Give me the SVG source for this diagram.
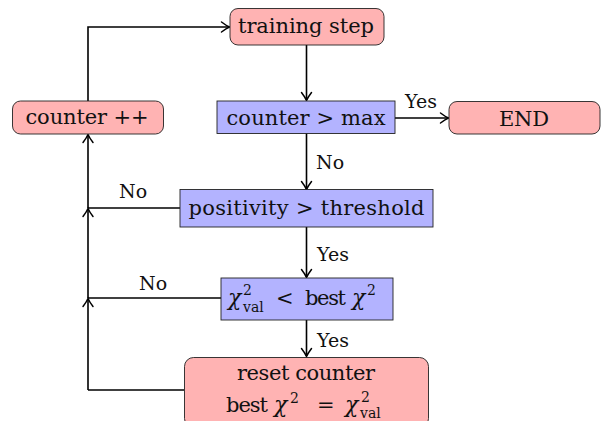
<svg xmlns="http://www.w3.org/2000/svg" width="604" height="421" viewBox="0 0 604 421">
<style>
.pink{fill:#ffb3b3;stroke:#222;stroke-width:0.9}
.blue{fill:#b3b3ff;stroke:#222;stroke-width:0.9}
.t{font-family:"DejaVu Serif","Liberation Serif",serif;font-size:21px;fill:#111;text-anchor:middle}
.s{font-family:"DejaVu Serif","Liberation Serif",serif;font-size:21px;fill:#111}
.i{font-style:italic;font-size:22px}
.sm{font-size:14px}
.lab{font-family:"DejaVu Serif","Liberation Serif",serif;font-size:19px;fill:#111}
.c{fill:none;stroke:#000;stroke-width:1.6}
</style>
<defs>
<marker id="ar" markerWidth="14" markerHeight="14" refX="0" refY="0" viewBox="-9 -7 11 14" orient="auto" markerUnits="userSpaceOnUse">
<path d="M-7.5,-5 Q-2.5,-1.2 0.5,0 Q-2.5,1.2 -7.5,5" fill="none" stroke="#000" stroke-width="1.5" stroke-linecap="round"/>
</marker>
</defs>
<g id="connectors">
<path class="c" d="M88,101 V27 H229" marker-end="url(#ar)"/>
<path class="c" d="M306.5,45 V100" marker-end="url(#ar)"/>
<path class="c" d="M395,118 H448" marker-end="url(#ar)"/>
<path class="c" d="M306.5,133 V189" marker-end="url(#ar)"/>
<path class="c" d="M306.5,227 V277" marker-end="url(#ar)"/>
<path class="c" d="M306.5,320 V356" marker-end="url(#ar)"/>
<path class="c" d="M180,208 H88"/>
<path class="c" d="M221,298 H88"/>
<path class="c" d="M184,390 H88"/>
<path class="c" d="M88,208 V135" marker-end="url(#ar)"/>
<path class="c" d="M88,298 V209" marker-end="url(#ar)"/>
<path class="c" d="M88,390 V299" marker-end="url(#ar)"/>
<text class="lab" x="405" y="108">Yes</text>
<text class="lab" x="316" y="169">No</text>
<text class="lab" x="317" y="261">Yes</text>
<text class="lab" x="317" y="347">Yes</text>
<text class="lab" x="119" y="198">No</text>
<text class="lab" x="139" y="290">No</text>
</g>
<g id="training-step">
<rect class="pink" x="230" y="8.5" width="154" height="36.5" rx="8"/>
<text class="t" x="306" y="33" textLength="136">training step</text>
</g>
<g id="counter-inc">
<rect class="pink" x="12.5" y="101" width="151" height="33" rx="8"/>
<text class="t" x="87" y="124" textLength="123">counter ++</text>
</g>
<g id="counter-max">
<rect class="blue" x="217" y="101" width="178" height="32.5"/>
<text class="t" x="306" y="125" textLength="159">counter &gt; max</text>
</g>
<g id="end">
<rect class="pink" x="449" y="101.5" width="151" height="32.5" rx="8"/>
<text class="t" x="524" y="126" textLength="50">END</text>
</g>
<g id="positivity">
<rect class="blue" x="180" y="189.5" width="253" height="37.5"/>
<text class="t" x="306.5" y="215" textLength="236">positivity &gt; threshold</text>
</g>
<g id="chi-compare">
<rect class="blue" x="221" y="278" width="172" height="42"/>
<text class="s"><tspan class="i" x="228" y="305">χ</tspan><tspan class="sm" x="243" y="295">2</tspan><tspan class="sm" x="243" y="312">val</tspan><tspan x="276" y="305">&lt;</tspan><tspan x="305" y="305" textLength="41">best</tspan><tspan class="i" x="352" y="305">χ</tspan><tspan class="sm" x="367" y="295">2</tspan></text>
</g>
<g id="reset">
<rect class="pink" x="184.5" y="357.5" width="244" height="70" rx="9"/>
<text class="t" x="306" y="380" textLength="138">reset counter</text>
<text class="s"><tspan x="226" y="412" textLength="42">best</tspan><tspan class="i" x="274" y="412">χ</tspan><tspan class="sm" x="290" y="403">2</tspan><tspan x="317" y="412">=</tspan><tspan class="i" x="345" y="412">χ</tspan><tspan class="sm" x="361" y="402">2</tspan><tspan class="sm" x="360" y="418">val</tspan></text>
</g>
</svg>
